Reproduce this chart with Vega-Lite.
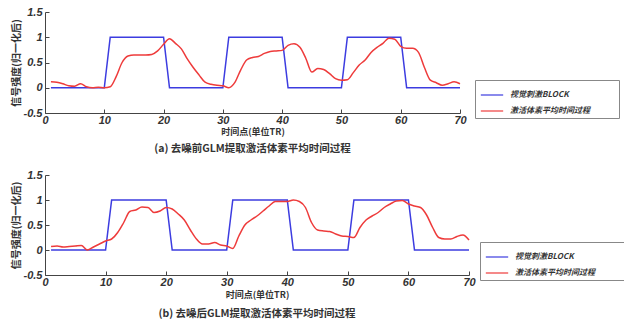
{
  "$schema": "https://vega.github.io/schema/vega-lite/v6.json",
  "padding": {"left": 11, "top": 6, "right": 0, "bottom": 0},
  "background": "white",
  "spacing": 14,
  "config": {
    "view": {"stroke": null},
    "axis": {
      "grid": false,
      "domainColor": "#444",
      "tickColor": "#444",
      "tickSize": -4,
      "labelOverlap": false,
      "labelFont": "Liberation Sans",
      "labelFontSize": 11,
      "labelFontWeight": "bold",
      "labelFontStyle": "italic",
      "labelColor": "#333",
      "titleFont": "Noto Sans CJK SC",
      "titleFontSize": 9,
      "titleFontWeight": "bold",
      "titleColor": "#333"
    },
    "axisY": {"labelOverlap": false, "labelSeparation": 0},
    "legend": {
      "orient": "none",
      "strokeColor": "#888",
      "fillColor": "white",
      "padding": 3,
      "symbolType": "stroke",
      "symbolSize": 500,
      "symbolStrokeWidth": 1.2,
      "labelFont": "Noto Sans CJK SC",
      "labelFontSize": 8,
      "labelFontWeight": "bold",
      "labelFontStyle": "italic",
      "labelColor": "#333",
      "rowPadding": 0,
      "symbolOffset": 2,
      "labelOffset": 6,
      "titleOrient": "right",
      "titlePadding": 26,
      "titleFontSize": 8
    },
    "title": {
      "font": "Noto Sans CJK SC",
      "fontSize": 10.5,
      "fontWeight": "bold",
      "color": "#333",
      "orient": "bottom",
      "anchor": "middle",
      "offset": 8
    }
  },
  "datasets": {
    "block": [
      {"t": 1, "v": 0}, {"t": 10, "v": 0}, {"t": 11, "v": 1}, {"t": 20, "v": 1},
      {"t": 21, "v": 0}, {"t": 30, "v": 0}, {"t": 31, "v": 1}, {"t": 40, "v": 1},
      {"t": 41, "v": 0}, {"t": 50, "v": 0}, {"t": 51, "v": 1}, {"t": 60, "v": 1},
      {"t": 61, "v": 0}, {"t": 70, "v": 0}
    ],
    "redA": [
      {"t": 1, "v": 0.12}, {"t": 2, "v": 0.11}, {"t": 3, "v": 0.08}, {"t": 4, "v": 0.04}, {"t": 5, "v": 0.03},
      {"t": 6, "v": 0.08}, {"t": 7, "v": 0.02}, {"t": 8, "v": 0.0}, {"t": 9, "v": 0.01}, {"t": 10, "v": 0.0},
      {"t": 11, "v": 0.02}, {"t": 12, "v": 0.22}, {"t": 13, "v": 0.5}, {"t": 14, "v": 0.63}, {"t": 15, "v": 0.65},
      {"t": 16, "v": 0.65}, {"t": 17, "v": 0.65}, {"t": 18, "v": 0.66}, {"t": 19, "v": 0.73}, {"t": 20, "v": 0.86},
      {"t": 21, "v": 0.97}, {"t": 22, "v": 0.88}, {"t": 23, "v": 0.77}, {"t": 24, "v": 0.57}, {"t": 25, "v": 0.4},
      {"t": 26, "v": 0.25}, {"t": 27, "v": 0.11}, {"t": 28, "v": 0.07}, {"t": 29, "v": 0.05}, {"t": 30, "v": 0.04},
      {"t": 31, "v": 0.0}, {"t": 32, "v": 0.1}, {"t": 33, "v": 0.35}, {"t": 34, "v": 0.55}, {"t": 35, "v": 0.6},
      {"t": 36, "v": 0.62}, {"t": 37, "v": 0.68}, {"t": 38, "v": 0.72}, {"t": 39, "v": 0.73}, {"t": 40, "v": 0.74},
      {"t": 41, "v": 0.84}, {"t": 42, "v": 0.87}, {"t": 43, "v": 0.8}, {"t": 44, "v": 0.58}, {"t": 45, "v": 0.31},
      {"t": 46, "v": 0.38}, {"t": 47, "v": 0.36}, {"t": 48, "v": 0.28}, {"t": 49, "v": 0.18}, {"t": 50, "v": 0.15},
      {"t": 51, "v": 0.16}, {"t": 52, "v": 0.3}, {"t": 53, "v": 0.45}, {"t": 54, "v": 0.55}, {"t": 55, "v": 0.7},
      {"t": 56, "v": 0.8}, {"t": 57, "v": 0.88}, {"t": 58, "v": 0.98}, {"t": 59, "v": 0.96}, {"t": 60, "v": 0.82},
      {"t": 61, "v": 0.78}, {"t": 62, "v": 0.78}, {"t": 63, "v": 0.7}, {"t": 64, "v": 0.4}, {"t": 65, "v": 0.15},
      {"t": 66, "v": 0.1}, {"t": 67, "v": 0.05}, {"t": 68, "v": 0.08}, {"t": 69, "v": 0.12}, {"t": 70, "v": 0.08}
    ],
    "redB": [
      {"t": 1, "v": 0.07}, {"t": 2, "v": 0.08}, {"t": 3, "v": 0.06}, {"t": 4, "v": 0.07}, {"t": 5, "v": 0.08},
      {"t": 6, "v": 0.09}, {"t": 7, "v": 0.0}, {"t": 8, "v": 0.06}, {"t": 9, "v": 0.12}, {"t": 10, "v": 0.18},
      {"t": 11, "v": 0.22}, {"t": 12, "v": 0.35}, {"t": 13, "v": 0.55}, {"t": 14, "v": 0.77}, {"t": 15, "v": 0.8},
      {"t": 16, "v": 0.86}, {"t": 17, "v": 0.85}, {"t": 18, "v": 0.75}, {"t": 19, "v": 0.78}, {"t": 20, "v": 0.85},
      {"t": 21, "v": 0.82}, {"t": 22, "v": 0.72}, {"t": 23, "v": 0.6}, {"t": 24, "v": 0.4}, {"t": 25, "v": 0.22},
      {"t": 26, "v": 0.12}, {"t": 27, "v": 0.12}, {"t": 28, "v": 0.15}, {"t": 29, "v": 0.1}, {"t": 30, "v": 0.08},
      {"t": 31, "v": 0.03}, {"t": 32, "v": 0.28}, {"t": 33, "v": 0.5}, {"t": 34, "v": 0.6}, {"t": 35, "v": 0.68},
      {"t": 36, "v": 0.78}, {"t": 37, "v": 0.88}, {"t": 38, "v": 0.97}, {"t": 39, "v": 0.97}, {"t": 40, "v": 0.97},
      {"t": 41, "v": 1.0}, {"t": 42, "v": 0.97}, {"t": 43, "v": 0.85}, {"t": 44, "v": 0.55}, {"t": 45, "v": 0.4},
      {"t": 46, "v": 0.38}, {"t": 47, "v": 0.37}, {"t": 48, "v": 0.32}, {"t": 49, "v": 0.28}, {"t": 50, "v": 0.27},
      {"t": 51, "v": 0.25}, {"t": 52, "v": 0.45}, {"t": 53, "v": 0.6}, {"t": 54, "v": 0.68}, {"t": 55, "v": 0.75},
      {"t": 56, "v": 0.85}, {"t": 57, "v": 0.92}, {"t": 58, "v": 0.98}, {"t": 59, "v": 0.99}, {"t": 60, "v": 0.92},
      {"t": 61, "v": 0.88}, {"t": 62, "v": 0.85}, {"t": 63, "v": 0.7}, {"t": 64, "v": 0.45}, {"t": 65, "v": 0.25},
      {"t": 66, "v": 0.22}, {"t": 67, "v": 0.22}, {"t": 68, "v": 0.27}, {"t": 69, "v": 0.3}, {"t": 70, "v": 0.2}
    ]
  },
  "vconcat": [
    {
      "width": 415,
      "height": 101,
      "title": {"text": "(a)  去噪前GLM提取激活体素平均时间过程"},
      "encoding": {
        "x": {"field": "t", "type": "quantitative", "scale": {"domain": [0, 70], "nice": false}, "axis": {"values": [0, 10, 20, 30, 40, 50, 60, 70], "labelOverlap": false, "labelFlush": false, "title": "时间点(单位TR)", "titlePadding": 2, "labelPadding": 5}},
        "y": {"field": "v", "type": "quantitative", "scale": {"domain": [-0.5, 1.5], "nice": false}, "axis": {"values": [-0.5, 0, 0.5, 1, 1.5], "labelOverlap": false, "labelFlush": false, "labelExpr": "datum.value == 1 ? '1' : datum.value == 0 ? '0' : datum.value == 1.5 ? '1.5' : datum.value == 0.5 ? '0.5' : '-0.5'", "title": "信号强度(归一化后)", "titleFontSize": 10, "titlePadding": 2, "labelPadding": 7}},
        "color": {"field": "series", "type": "nominal", "scale": {"domain": ["视觉刺激BLOCK", "激活体素平均时间过程"], "range": ["#3c3ce0", "#ee3b3b"]}, "legend": {"title": "\u00a0", "legendX": 430, "legendY": 68}}
      },
      "layer": [
        {
          "data": {"name": "block"},
          "transform": [{"calculate": "'视觉刺激BLOCK'", "as": "series"}],
          "mark": {"type": "line", "strokeWidth": 1.5}
        },
        {
          "data": {"name": "redA"},
          "transform": [{"calculate": "'激活体素平均时间过程'", "as": "series"}],
          "mark": {"type": "line", "strokeWidth": 1.5, "interpolate": "monotone"}
        }
      ]
    },
    {
      "width": 424,
      "height": 100,
      "title": {"text": "(b)  去噪后GLM提取激活体素平均时间过程", "offset": 10},
      "encoding": {
        "x": {"field": "t", "type": "quantitative", "scale": {"domain": [0, 70], "nice": false}, "axis": {"values": [0, 10, 20, 30, 40, 50, 60, 70], "labelOverlap": false, "labelFlush": false, "title": "时间点(单位TR)", "titlePadding": 3, "labelPadding": 5}},
        "y": {"field": "v", "type": "quantitative", "scale": {"domain": [-0.5, 1.5], "nice": false}, "axis": {"values": [-0.5, 0, 0.5, 1, 1.5], "labelOverlap": false, "labelFlush": false, "labelExpr": "datum.value == 1 ? '1' : datum.value == 0 ? '0' : datum.value == 1.5 ? '1.5' : datum.value == 0.5 ? '0.5' : '-0.5'", "title": "信号强度(归一化后)", "titleFontSize": 10, "titlePadding": 2, "labelPadding": 7}},
        "color": {"field": "series", "type": "nominal", "scale": {"domain": ["视觉刺激BLOCK", "激活体素平均时间过程"], "range": ["#3c3ce0", "#ee3b3b"]}, "legend": {"title": "\u00a0", "legendX": 435, "legendY": 67}}
      },
      "layer": [
        {
          "data": {"name": "block"},
          "transform": [{"calculate": "'视觉刺激BLOCK'", "as": "series"}],
          "mark": {"type": "line", "strokeWidth": 1.5}
        },
        {
          "data": {"name": "redB"},
          "transform": [{"calculate": "'激活体素平均时间过程'", "as": "series"}],
          "mark": {"type": "line", "strokeWidth": 1.5, "interpolate": "monotone"}
        }
      ]
    }
  ],
  "resolve": {"scale": {"color": "independent"}, "legend": {"color": "independent"}}
}
